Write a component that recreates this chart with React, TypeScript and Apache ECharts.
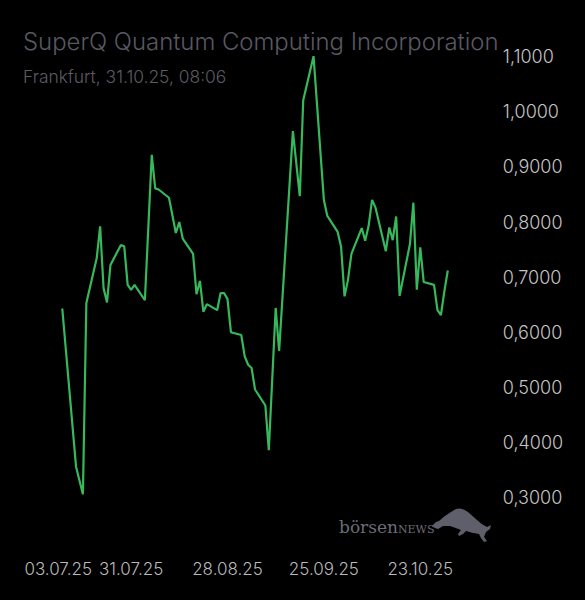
import { useEffect, useRef } from 'react';
import * as echarts from 'echarts';

// Trading days (Frankfurt) where the price line changes direction
const tradeDates = [
  '2025-07-11', '2025-07-15', '2025-07-17', '2025-07-18', '2025-07-21', '2025-07-22',
  '2025-07-23', '2025-07-24', '2025-07-25', '2025-07-28', '2025-07-29', '2025-07-30',
  '2025-07-31', '2025-08-01', '2025-08-04', '2025-08-06', '2025-08-07', '2025-08-08',
  '2025-08-11', '2025-08-13', '2025-08-14', '2025-08-15', '2025-08-18', '2025-08-19',
  '2025-08-20', '2025-08-21', '2025-08-22', '2025-08-25', '2025-08-26', '2025-08-27',
  '2025-08-28', '2025-08-29', '2025-09-01', '2025-09-02', '2025-09-03', '2025-09-04',
  '2025-09-05', '2025-09-08', '2025-09-09', '2025-09-11', '2025-09-12', '2025-09-16',
  '2025-09-18', '2025-09-19', '2025-09-22', '2025-09-25', '2025-09-26', '2025-09-29',
  '2025-09-30', '2025-10-01', '2025-10-02', '2025-10-03', '2025-10-06', '2025-10-07',
  '2025-10-08', '2025-10-09', '2025-10-10', '2025-10-13', '2025-10-14', '2025-10-15',
  '2025-10-16', '2025-10-17', '2025-10-20', '2025-10-21', '2025-10-22', '2025-10-23',
  '2025-10-24', '2025-10-27', '2025-10-28', '2025-10-29', '2025-10-30', '2025-10-31',
];

const prices = [
  0.643, 0.356, 0.306, 0.653, 0.734, 0.792,
  0.680, 0.654, 0.722, 0.758, 0.756, 0.686,
  0.677, 0.686, 0.658, 0.922, 0.861, 0.859,
  0.844, 0.780, 0.800, 0.770, 0.742, 0.669,
  0.693, 0.637, 0.651, 0.640, 0.671, 0.671,
  0.660, 0.600, 0.595, 0.556, 0.541, 0.535,
  0.496, 0.467, 0.386, 0.644, 0.566, 0.965,
  0.847, 1.021, 1.101, 0.840, 0.811, 0.782,
  0.755, 0.665, 0.695, 0.742, 0.789, 0.766,
  0.793, 0.840, 0.826, 0.747, 0.790, 0.767,
  0.810, 0.666, 0.760, 0.835, 0.677, 0.754,
  0.691, 0.686, 0.640, 0.631, 0.674, 0.712,
];

// x-axis label dates, every four weeks
const tickDates = ['2025-07-03', '2025-07-31', '2025-08-28', '2025-09-25', '2025-10-23'];

const axisStart = '2025-06-30';
const axisEnd = '2025-10-31';

const yTicks = { min: 0.3, max: 1.1, step: 0.1 };

const toTime = (s: string) => {
  const [y, m, d] = s.split('-').map(Number);
  return new Date(y, m - 1, d).getTime();
};

const fmtDate = (t: number) => {
  const d = new Date(t);
  const p = (n: number) => String(n).padStart(2, '0');
  return `${p(d.getDate())}.${p(d.getMonth() + 1)}.${String(d.getFullYear()).slice(2)}`;
};

// börsenNEWS bull silhouette
const BULL_PATH =
  'M0 20 L4 16 L7 15 Q12 10 19 6 L24 3 Q30 1 36 6 L45 14 Q50 19 55 21 L59 19 L58 23 L54 26 L52 31 L55 35 L52 36 L49 32 L47 28 Q40 27 34 25 L31 28 L27 30 L26 28 L29 24 Q24 22 18 20 L11 20 L6 23 L3 22 Z';
echarts.graphic.registerShape('bull', echarts.graphic.extendPath(BULL_PATH, {}) as any);

export default function App() {
  const chartRef = useRef<HTMLDivElement>(null);

  useEffect(() => {
    if (!chartRef.current) return;
    const chart = echarts.init(chartRef.current, undefined, { renderer: 'svg' });

    const font = 'Inter, "Noto Sans", sans-serif';
    const firstDate = toTime(tickDates[0]);

    chart.setOption({
      animation: false,
      backgroundColor: '#000000',
      title: [
        {
          text: 'SuperQ Quantum Computing Incorporation',
          left: 23,
          top: 29,
          padding: 0,
          textStyle: { color: '#585862', fontSize: 23.9, fontWeight: 300, fontFamily: font },
        },
        {
          text: 'Frankfurt, 31.10.25, 08:06',
          left: 23,
          top: 68,
          padding: 0,
          textStyle: { color: '#5c5c64', fontSize: 17.4, fontWeight: 300, fontFamily: font },
        },
      ],
      grid: { left: 24.4, right: 137.2, top: 56.7, bottom: 102.5 },
      xAxis: {
        type: 'value',
        min: toTime(axisStart),
        max: toTime(axisEnd),
        axisLine: { show: false },
        axisTick: { show: false },
        splitLine: { show: false },
        axisLabel: {
          customValues: tickDates.map(toTime),
          margin: 63,
          color: '#bababa',
          fontSize: 17,
          fontWeight: 300,
          fontFamily: font,
          formatter: (v: number) =>
            v === firstDate ? `{first|${fmtDate(v)}}` : fmtDate(v),
          rich: {
            first: {
              padding: [0, 0, 0, 47],
              color: '#bababa',
              fontSize: 17,
              fontWeight: 300,
              fontFamily: font,
            },
          },
        },
      },
      yAxis: {
        type: 'value',
        position: 'right',
        min: yTicks.min,
        max: yTicks.max,
        interval: yTicks.step,
        axisLine: { show: false },
        axisTick: { show: false },
        splitLine: { show: false },
        axisLabel: {
          margin: 55,
          color: '#c4c4c4',
          fontSize: 18,
          fontWeight: 300,
          fontFamily: font,
          formatter: (v: number) => v.toFixed(4).replace('.', ','),
        },
      },
      series: [
        {
          type: 'line',
          data: tradeDates.map((d, i) => [toTime(d), prices[i]]),
          showSymbol: false,
          clip: false,
          lineStyle: { color: '#36b85c', width: 2.2 },
          itemStyle: { color: '#36b85c' },
        },
      ],
      graphic: [
        {
          type: 'text',
          left: 339,
          top: 518,
          style: {
            text: '{a|börsen}{b|NEWS}',
            rich: {
              a: { fontFamily: '"DejaVu Serif", serif', fontSize: 17, fill: '#6c6c76', verticalAlign: 'bottom' },
              b: { fontFamily: '"DejaVu Serif", serif', fontSize: 11, fill: '#6c6c76', verticalAlign: 'bottom' },
            },
          },
        },
        {
          type: 'bull',
          x: 432,
          y: 506,
          style: { fill: '#5f5f6b' },
        },
      ],
    });

    return () => chart.dispose();
  }, []);

  return (
    <div
      ref={chartRef}
      style={{ position: 'absolute', left: 0, top: 0, width: 585, height: 600 }}
    />
  );
}
